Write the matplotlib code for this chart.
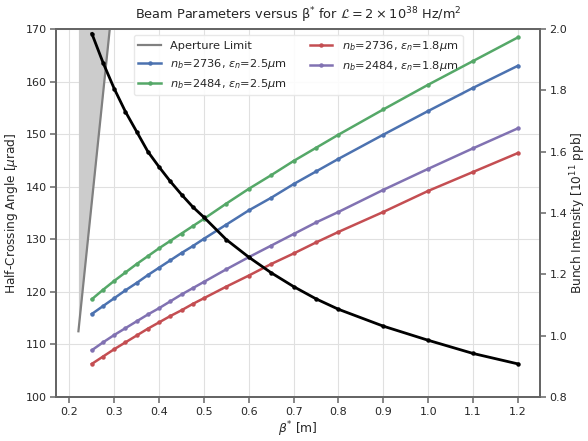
import matplotlib
matplotlib.use("Agg")
import matplotlib.pyplot as plt

beta = [0.25, 0.275, 0.3, 0.325, 0.35, 0.375, 0.4, 0.425, 0.45, 0.475, 0.5,
        0.55, 0.6, 0.65, 0.7, 0.75, 0.8, 0.9, 1.0, 1.1, 1.2]

angle_2736_25 = [115.8, 117.3, 118.8, 120.3, 121.7, 123.2, 124.6, 126.0, 127.4, 128.7, 130.1,
                 132.8, 135.5, 137.9, 140.5, 142.9, 145.3, 149.9, 154.4, 158.8, 163.0]
angle_2484_25 = [118.6, 120.4, 122.1, 123.7, 125.3, 126.8, 128.3, 129.7, 131.1, 132.5, 133.9,
                 136.8, 139.6, 142.2, 144.9, 147.4, 149.9, 154.7, 159.4, 163.9, 168.4]
angle_2736_18 = [106.3, 107.7, 109.1, 110.4, 111.7, 113.0, 114.2, 115.4, 116.5, 117.7, 118.8,
                 121.0, 123.1, 125.3, 127.3, 129.4, 131.4, 135.2, 139.2, 142.8, 146.4]
angle_2484_18 = [108.9, 110.4, 111.8, 113.1, 114.4, 115.7, 116.9, 118.2, 119.5, 120.7, 121.9,
                 124.3, 126.6, 128.8, 131.0, 133.2, 135.2, 139.4, 143.4, 147.3, 151.1]
intensity = [1.985, 1.89, 1.805, 1.73, 1.665, 1.60, 1.55, 1.503, 1.46, 1.42, 1.386,
             1.313, 1.256, 1.205, 1.160, 1.120, 1.086, 1.031, 0.985, 0.942, 0.908]

aperture_beta = [0.22, 0.30]
aperture_angle = [112.5, 178.3]

labels = [r'$n_b$=2736, $\varepsilon_n$=2.5$\mu$m',
          r'$n_b$=2484, $\varepsilon_n$=2.5$\mu$m',
          r'$n_b$=2736, $\varepsilon_n$=1.8$\mu$m',
          r'$n_b$=2484, $\varepsilon_n$=1.8$\mu$m']
colors = ['#4C72B0', '#55A868', '#C44E52', '#8172B2']

plt.rcParams['font.family'] = ['DejaVu Sans']
txt = '0.15'
spine_c = '0.4'

fig = plt.figure(figsize=(5.88, 4.41), dpi=100)
ax = fig.add_axes([0.096, 0.0998, 0.822, 0.8344])
ax2 = ax.twinx()

ax.fill_betweenx(aperture_angle, aperture_beta[0], aperture_beta, color='0.8', lw=0)
ap, = ax.plot(aperture_beta, aperture_angle, color='0.5', lw=1.6, label='Aperture Limit')

handles = [ap]
for ys, c, lab in zip([angle_2736_25, angle_2484_25, angle_2736_18, angle_2484_18], colors, labels):
    h, = ax.plot(beta, ys, color=c, lw=1.8, marker='o', ms=2.2, label=lab, zorder=3)
    handles.append(h)

ax2.plot(beta, intensity, color='black', lw=2.0, marker='o', ms=2.2)

ax.set_ylim(100, 170)
ax2.set_ylim(0.8, 2.0)
ax.set_xticks([0.2, 0.3, 0.4, 0.5, 0.6, 0.7, 0.8, 0.9, 1.0, 1.1, 1.2])
ax.set_yticks(range(100, 171, 10))
ax2.set_yticks([0.8, 1.0, 1.2, 1.4, 1.6, 1.8, 2.0])

ax.set_axisbelow(True)
ax.grid(True, color='0.88', lw=0.8)
ax2.grid(False)

for a in (ax, ax2):
    for s in a.spines.values():
        s.set_color(spine_c)
        s.set_linewidth(1.4)
    a.tick_params(colors=spine_c, labelcolor=txt, labelsize=8, length=4.5, width=1.1, pad=2.5)

ax.set_xlabel(r'$\beta^{*}$ [m]', fontsize=8.8, color=txt, labelpad=2)
ax.set_ylabel(r'Half-Crossing Angle [$\mu$rad]', fontsize=8.7, color=txt, labelpad=4)
ax2.set_ylabel(r'Bunch Intensity [$10^{11}$ ppb]', fontsize=8.7, color=txt, labelpad=1)
ax.set_title(r'Beam Parameters versus β$^{*}$ for $\mathcal{L}=2\times10^{38}$ Hz/m$^2$',
             fontsize=9.3, color=txt, pad=7)

leg = ax.legend(handles=handles, ncol=2, loc='upper center', fontsize=8.2,
                frameon=True, framealpha=0.9, edgecolor='0.9', fancybox=True,
                borderaxespad=0.5)
for t in leg.get_texts():
    t.set_color(txt)
leg.set_zorder(2.5)

fig.savefig('out.png', dpi=100)
